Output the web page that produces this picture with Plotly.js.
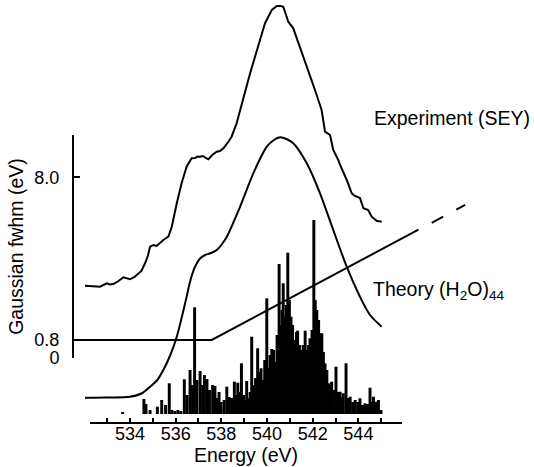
<!DOCTYPE html>
<html>
<head>
<meta charset="utf-8">
<script src="https://cdn.plot.ly/plotly-3.0.1.min.js"></script>
<style>html,body{margin:0;padding:0;background:#fff;}#chart{width:534px;height:467px;}</style>
</head>
<body>
<div id="chart"></div>
<script>
// ---- Experiment (SEY) spectrum: energy (eV) and intensity (arb. units, offset) ----
const expEnergy = [532.03,532.35,532.69,532.98,533.12,533.27,533.5,533.71,534.0,534.2,534.36,534.5,534.66,534.78,534.88,535.02,535.17,535.3,535.46,535.68,535.83,536.05,536.26,536.48,536.7,536.85,536.95,537.07,537.2,537.32,537.43,537.6,537.8,537.94,538.1,538.3,538.45,538.67,538.89,539.05,539.26,539.55,539.75,539.91,540.21,540.43,540.6,540.71,540.85,540.93,541.15,541.35,541.59,541.8,542.03,542.1,542.39,542.54,542.76,542.9,543.12,543.2,543.49,543.71,543.85,544.07,544.22,544.43,544.58,544.8,545.02];
const expIntensity = [136.3,136,135.3,138.7,137.5,138,141,144.7,142.7,145,148.7,151,158.7,166,175.3,177,176,179,182,185.3,195.3,218.7,238.7,255.3,263.7,264,265.5,265.3,266,264,262.7,267,270.3,271,274,280,285.3,298.7,318.7,331,348.7,372,387,398.7,412,416,416,415.3,406,400.3,393.7,381,365.3,351,337,332,312,290.3,287,272,262,257,242,228.7,226,224,213.7,212,205.3,201.3,200.3];

// ---- Theory (H2O)44 broadened spectrum ----
const theoryEnergy = [532.03,533.0,534.0,534.5,534.88,535.2,535.46,535.75,536.05,536.25,536.48,536.65,536.85,537.05,537.29,537.55,537.8,538.0,538.24,538.82,539.4,539.99,540.3,540.57,540.85,541.15,541.74,542.32,542.9,543.49,544.07,544.51,545.02];
const theoryIntensity = [24.3,24.5,25.3,28.5,35.3,42,52,66,85.3,103,125.3,142,155.3,163,167,169,172,177,185.3,215.3,248.7,275.3,282,284.7,283,278.7,258.7,228.7,192,155.3,125.3,107,95.3];

// ---- Theory stick spectrum (oscillator strengths, arb. units) ----
const stickEnergy = [533.68,534.61,534.70,534.88,535.20,535.39,535.56,535.72,535.84,535.97,536.10,536.23,536.38,536.50,536.63,536.74,536.83,536.93,537.07,537.18,537.26,537.37,537.48,537.62,537.72,537.81,537.90,537.99,538.12,538.24,538.34,538.45,538.57,538.64,538.72,538.80,538.88,538.97,539.06,539.11,539.19,539.26,539.33,539.41,539.50,539.59,539.67,539.74,539.83,539.90,539.99,540.07,540.13,540.21,540.29,540.35,540.44,540.53,540.59,540.66,540.71,540.79,540.85,540.91,540.98,541.05,541.12,541.23,541.29,541.34,541.42,541.49,541.58,541.67,541.74,541.82,541.88,541.97,542.05,542.11,542.18,542.26,542.32,542.40,542.47,542.54,542.62,542.69,542.76,542.83,542.91,543.02,543.11,543.20,543.27,543.34,543.46,543.55,543.64,543.75,543.86,543.97,544.07,544.18,544.29,544.40,544.51,544.58,544.66,544.73,544.77,544.88,544.99];
const stickStrength = [2,15,10,4,7.3,14,9,30.7,4,3,4,3,34.7,19,44,29,106.7,34,43,29,39,35,24,29,28,16,22,12,14,27.3,17,16,32.3,19,31.3,22,50.7,19,14,33,16,22,77.3,29,36,65.7,42,45.7,34,54,115.7,46,59,65,64,52.3,79,150,89,104,130.7,97.3,109,161.3,114,97.3,89,74,82,83.3,69,64,69,83.3,64,69,75.7,84,194,114,104,94,80.7,80.7,62,50.7,44,30.7,29,32.3,24,47.3,22,22.3,17,20.7,50.7,16,17.3,12,14,12,15.7,9,10.7,10,26.3,12,17.3,9,12.3,14,4];

// ---- Gaussian fwhm (eV) used for broadening ----
const fwhmEnergy = [531.51,537.58,546.63];
const fwhmValue = [0.8,0.8,5.68];
const fwhmExtrapEnergy = [547.21,548.67];
const fwhmExtrapValue = [5.98,6.77];

// ---- axis ticks ----
const xTickVals = [533,534,535,536,537,538,539,540,541,542,543,544,545];
const xTickText = ['','534','','536','','538','','540','','542','','544',''];
const yTickVals = [0,0.8,8.0];
const yTickText = ['0','0.8','8.0'];

const font = 'Liberation Sans, Arial, Helvetica, sans-serif';
const xDom = [0.04326, 0.83715];
const xRange = [532.25, 545.91];
const slope = (xRange[1]-xRange[0])/(xDom[1]-xDom[0]);
const x2Range = [xRange[0]-xDom[0]*slope, xRange[1]+(1-xDom[1])*slope];

const black = '#000';
const traces = [
  {type:'scatter', mode:'lines', x:expEnergy, y:expIntensity, xaxis:'x2', yaxis:'y2',
   line:{color:black, width:2}, hoverinfo:'skip'},
  {type:'scatter', mode:'lines', x:theoryEnergy, y:theoryIntensity, xaxis:'x2', yaxis:'y2',
   line:{color:black, width:2, shape:'spline', smoothing:0.8}, hoverinfo:'skip'},
  {type:'bar', x:stickEnergy, y:stickStrength, base:8, width:0.13, xaxis:'x', yaxis:'y2',
   marker:{color:black, line:{width:0}}, hoverinfo:'skip'},
  {type:'scatter', mode:'lines', x:fwhmEnergy, y:fwhmValue, xaxis:'x2', yaxis:'y',
   line:{color:black, width:2}, hoverinfo:'skip'},
  {type:'scatter', mode:'lines', x:fwhmExtrapEnergy, y:fwhmExtrapValue, xaxis:'x2', yaxis:'y',
   line:{color:black, width:2, dash:'13px,15px'}, hoverinfo:'skip'}
];

const layout = {
  width:534, height:467,
  margin:{l:73, r:68, t:2, b:45},
  paper_bgcolor:'#fff', plot_bgcolor:'rgba(0,0,0,0)',
  showlegend:false, barmode:'overlay',
  font:{family:font, size:18, color:black},
  xaxis:{domain:xDom, range:xRange, anchor:'y2', showline:true, linewidth:2, linecolor:black,
    showgrid:false, zeroline:false, ticks:'inside', ticklen:4, tickwidth:2, tickcolor:black,
    tickvals:xTickVals, ticktext:xTickText, tickfont:{size:18}, ticklabelstandoff:-6,
    title:{text:'Energy (eV)', font:{size:19.5}, standoff:0}, automargin:false, fixedrange:true},
  xaxis2:{domain:[0,1], range:x2Range, anchor:'y', visible:false, fixedrange:true},
  yaxis:{domain:[0.15238,0.68333], range:[0,9.867], anchor:'free', position:0,
    showline:true, linewidth:2, linecolor:black, showgrid:false, zeroline:false,
    ticks:'inside', ticklen:6, tickwidth:2, tickcolor:black,
    tickvals:yTickVals, ticktext:yTickText, tickfont:{size:18}, ticklabelstandoff:9,
    title:{text:'Gaussian fwhm (eV)', font:{size:19.5}, standoff:5}, automargin:false, fixedrange:true},
  yaxis2:{domain:[0,1], range:[0,420], anchor:'x', visible:false, fixedrange:true},
  annotations:[
    {xref:'paper', yref:'paper', x:0.761, y:0.7238, xanchor:'left', yanchor:'middle',
     text:'Experiment (SEY)', showarrow:false, font:{size:19.5}},
    {xref:'paper', yref:'paper', x:0.759, y:0.314, xanchor:'left', yanchor:'middle',
     text:'Theory (H<sub>2</sub>O)<sub>44</sub>', showarrow:false, font:{size:19.5}}
  ]
};
Plotly.newPlot('chart', traces, layout, {displayModeBar:false, staticPlot:true});
</script>
</body>
</html>
